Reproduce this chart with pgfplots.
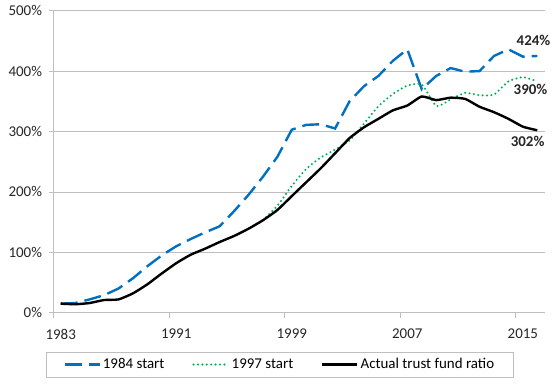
\documentclass[border=0pt]{standalone}
\usepackage{pgfplots}
\pgfplotsset{compat=1.18}
\usepackage{fontspec}
\setmainfont{Carlito}
\definecolor{cblue}{HTML}{0070C0}
\definecolor{cgreen}{HTML}{00B050}
\definecolor{cgrid}{HTML}{BFBFBF}
\begin{document}
\begin{tikzpicture}[x=1bp,y=1bp]
\useasboundingbox (0,0) rectangle (560,387);
\begin{axis}[
  at={(53.5bp,74.3bp)}, anchor=south west,
  scale only axis, width=491bp, height=302bp,
  xmin=1982.5, xmax=2016.5, ymin=0, ymax=500,
  xtick={1982.5,1990.5,1998.5,2006.5,2014.5},
  xticklabels={1983,1991,1999,2007,2015},
  xticklabel style={xshift=7.2bp, yshift=-8bp},
  ytick={0,100,200,300,400,500},
  yticklabel={\pgfmathprintnumber{\tick}\%},
  yticklabel style={xshift=-3bp},
  /pgf/number format/assume math mode=true,
  tick label style={font=\fontsize{15}{17}\selectfont, text=black!85},
  ymajorgrids, grid style={cgrid, line width=0.8bp},
  axis line style={cgrid, line width=0.8bp},
  axis x line*=bottom, axis y line*=left,
  tick style={cgrid, line width=0.8bp},
  tick align=outside, major tick length=5bp,
  legend columns=3,
  legend style={at={(0.461,0)}, anchor=north, yshift=-39bp,
    draw=cgrid, line width=0.8bp, font=\fontsize{15}{17}\selectfont,
    inner xsep=17bp, inner ysep=4.5bp,
    /tikz/every even column/.append style={column sep=26bp}},
  legend cell align=left,
  legend image code/.code={\draw[#1] (0bp,0bp) -- (35bp,0bp);},
  clip=false,
]
\addplot[cblue, line width=2.4bp, dash pattern=on 17bp off 7bp] coordinates {
(1983,15)(1984,16)(1985,22)(1986,29)(1987,40)(1988,57)(1989,77)(1990,95)
(1991,110)(1992,122)(1993,133)(1994,143)(1995,168)(1996,195)(1997,225)(1998,258)
(1999,303)(2000,311)(2001,312)(2002,305)(2003,350)(2004,375)(2005,392)(2006,417)
(2007,436)(2008,370)(2009,392)(2010,405)(2011,399)(2012,400)(2013,425)(2014,436)
(2015,424)(2016,425)};
\addlegendentry{1984 start}
\addplot[cgreen, line width=2.3bp, line cap=round, dash pattern=on 0bp off 4.4bp, smooth, tension=0.3] coordinates {
(1997,153)(1998,177)(1999,210)(2000,238)(2001,257)(2002,270)(2003,285)(2004,313)
(2005,342)(2006,362)(2007,376)(2008,378)(2009,342)(2010,353)(2011,364)(2012,360)
(2013,361)(2014,383)(2015,390)(2016,383)};
\addlegendentry{1997 start}
\addplot[black, line width=2.4bp, smooth, tension=0.3] coordinates {
(1983,15)(1984,14)(1985,16)(1986,21)(1987,22)(1988,32)(1989,47)(1990,65)
(1991,82)(1992,96)(1993,106)(1994,117)(1995,127)(1996,139)(1997,153)(1998,170)
(1999,193)(2000,216)(2001,239)(2002,264)(2003,289)(2004,307)(2005,321)(2006,335)
(2007,343)(2008,358)(2009,352)(2010,356)(2011,354)(2012,341)(2013,332)(2014,321)
(2015,308)(2016,302)};
\addlegendentry{Actual trust fund ratio}
\node[font=\bfseries\fontsize{15}{17}\selectfont, text=black!85] at (axis cs:2015.74,451) {424\%};
\node[font=\bfseries\fontsize{15}{17}\selectfont, text=black!85] at (axis cs:2015.53,369) {390\%};
\node[font=\bfseries\fontsize{15}{17}\selectfont, text=black!85] at (axis cs:2015.33,283) {302\%};
\end{axis}
\end{tikzpicture}
\end{document}
